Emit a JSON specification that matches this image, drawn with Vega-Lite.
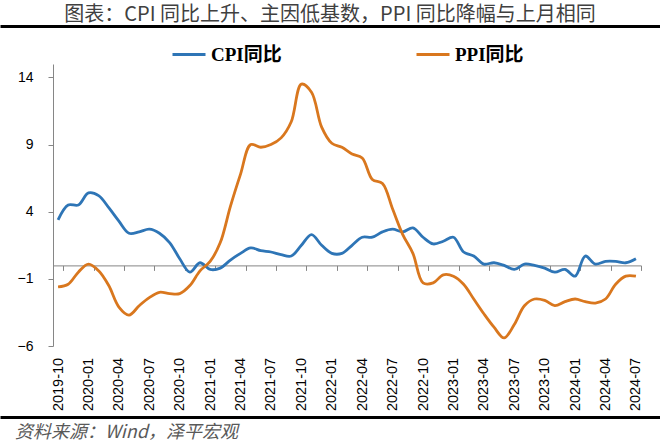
{
  "$schema": "https://vega.github.io/schema/vega-lite/v6.json",
  "padding": {"top": 5, "left": 0, "right": 0, "bottom": 0},
  "background": "white",
  "spacing": 6,
  "config": {"view": {"stroke": null}},
  "resolve": {"legend": {"color": "independent"}},
  "vconcat": [
    {
      "width": 607,
      "height": 1,
      "title": {
        "text": "图表：CPI 同比上升、主因低基数，PPI 同比降幅与上月相同",
        "font": "Noto Sans CJK SC",
        "fontSize": 20,
        "fontWeight": "normal",
        "color": "#404040",
        "anchor": "middle",
        "frame": "group",
        "dx": -26.5,
        "offset": 1
      },
      "data": {"values": [{"v": 0}]},
      "mark": {"type": "point", "size": 0, "strokeWidth": 0, "opacity": 0},
      "encoding": {
        "x": {
          "field": "v",
          "type": "quantitative",
          "scale": {"domain": [0, 1], "range": [-53, 607]},
          "axis": {"orient": "top", "title": null, "labels": false, "ticks": false, "grid": false, "domainColor": "#000000", "domainWidth": 3, "minExtent": 0}
        }
      }
    },
    {
      "width": 588,
      "height": 282,
      "data": {
        "values": [
          {"month": "2019-10", "series": "CPI同比", "value": 3.4},
          {"month": "2019-11", "series": "CPI同比", "value": 4.5},
          {"month": "2019-12", "series": "CPI同比", "value": 4.5},
          {"month": "2020-01", "series": "CPI同比", "value": 5.4},
          {"month": "2020-02", "series": "CPI同比", "value": 5.2},
          {"month": "2020-03", "series": "CPI同比", "value": 4.3},
          {"month": "2020-04", "series": "CPI同比", "value": 3.3},
          {"month": "2020-05", "series": "CPI同比", "value": 2.4},
          {"month": "2020-06", "series": "CPI同比", "value": 2.5},
          {"month": "2020-07", "series": "CPI同比", "value": 2.7},
          {"month": "2020-08", "series": "CPI同比", "value": 2.4},
          {"month": "2020-09", "series": "CPI同比", "value": 1.7},
          {"month": "2020-10", "series": "CPI同比", "value": 0.5},
          {"month": "2020-11", "series": "CPI同比", "value": -0.5},
          {"month": "2020-12", "series": "CPI同比", "value": 0.2},
          {"month": "2021-01", "series": "CPI同比", "value": -0.3},
          {"month": "2021-02", "series": "CPI同比", "value": -0.2},
          {"month": "2021-03", "series": "CPI同比", "value": 0.4},
          {"month": "2021-04", "series": "CPI同比", "value": 0.9},
          {"month": "2021-05", "series": "CPI同比", "value": 1.3},
          {"month": "2021-06", "series": "CPI同比", "value": 1.1},
          {"month": "2021-07", "series": "CPI同比", "value": 1.0},
          {"month": "2021-08", "series": "CPI同比", "value": 0.8},
          {"month": "2021-09", "series": "CPI同比", "value": 0.7},
          {"month": "2021-10", "series": "CPI同比", "value": 1.5},
          {"month": "2021-11", "series": "CPI同比", "value": 2.3},
          {"month": "2021-12", "series": "CPI同比", "value": 1.5},
          {"month": "2022-01", "series": "CPI同比", "value": 0.9},
          {"month": "2022-02", "series": "CPI同比", "value": 0.9},
          {"month": "2022-03", "series": "CPI同比", "value": 1.5},
          {"month": "2022-04", "series": "CPI同比", "value": 2.1},
          {"month": "2022-05", "series": "CPI同比", "value": 2.1},
          {"month": "2022-06", "series": "CPI同比", "value": 2.5},
          {"month": "2022-07", "series": "CPI同比", "value": 2.7},
          {"month": "2022-08", "series": "CPI同比", "value": 2.5},
          {"month": "2022-09", "series": "CPI同比", "value": 2.8},
          {"month": "2022-10", "series": "CPI同比", "value": 2.1},
          {"month": "2022-11", "series": "CPI同比", "value": 1.6},
          {"month": "2022-12", "series": "CPI同比", "value": 1.8},
          {"month": "2023-01", "series": "CPI同比", "value": 2.1},
          {"month": "2023-02", "series": "CPI同比", "value": 1.0},
          {"month": "2023-03", "series": "CPI同比", "value": 0.7},
          {"month": "2023-04", "series": "CPI同比", "value": 0.1},
          {"month": "2023-05", "series": "CPI同比", "value": 0.2},
          {"month": "2023-06", "series": "CPI同比", "value": 0.0},
          {"month": "2023-07", "series": "CPI同比", "value": -0.3},
          {"month": "2023-08", "series": "CPI同比", "value": 0.1},
          {"month": "2023-09", "series": "CPI同比", "value": 0.0},
          {"month": "2023-10", "series": "CPI同比", "value": -0.2},
          {"month": "2023-11", "series": "CPI同比", "value": -0.5},
          {"month": "2023-12", "series": "CPI同比", "value": -0.3},
          {"month": "2024-01", "series": "CPI同比", "value": -0.8},
          {"month": "2024-02", "series": "CPI同比", "value": 0.7},
          {"month": "2024-03", "series": "CPI同比", "value": 0.1},
          {"month": "2024-04", "series": "CPI同比", "value": 0.3},
          {"month": "2024-05", "series": "CPI同比", "value": 0.3},
          {"month": "2024-06", "series": "CPI同比", "value": 0.2},
          {"month": "2024-07", "series": "CPI同比", "value": 0.5},
          {"month": "2019-10", "series": "PPI同比", "value": -1.6},
          {"month": "2019-11", "series": "PPI同比", "value": -1.4},
          {"month": "2019-12", "series": "PPI同比", "value": -0.5},
          {"month": "2020-01", "series": "PPI同比", "value": 0.1},
          {"month": "2020-02", "series": "PPI同比", "value": -0.4},
          {"month": "2020-03", "series": "PPI同比", "value": -1.5},
          {"month": "2020-04", "series": "PPI同比", "value": -3.1},
          {"month": "2020-05", "series": "PPI同比", "value": -3.7},
          {"month": "2020-06", "series": "PPI同比", "value": -3.0},
          {"month": "2020-07", "series": "PPI同比", "value": -2.4},
          {"month": "2020-08", "series": "PPI同比", "value": -2.0},
          {"month": "2020-09", "series": "PPI同比", "value": -2.1},
          {"month": "2020-10", "series": "PPI同比", "value": -2.1},
          {"month": "2020-11", "series": "PPI同比", "value": -1.5},
          {"month": "2020-12", "series": "PPI同比", "value": -0.4},
          {"month": "2021-01", "series": "PPI同比", "value": 0.3},
          {"month": "2021-02", "series": "PPI同比", "value": 1.7},
          {"month": "2021-03", "series": "PPI同比", "value": 4.4},
          {"month": "2021-04", "series": "PPI同比", "value": 6.8},
          {"month": "2021-05", "series": "PPI同比", "value": 9.0},
          {"month": "2021-06", "series": "PPI同比", "value": 8.8},
          {"month": "2021-07", "series": "PPI同比", "value": 9.0},
          {"month": "2021-08", "series": "PPI同比", "value": 9.5},
          {"month": "2021-09", "series": "PPI同比", "value": 10.7},
          {"month": "2021-10", "series": "PPI同比", "value": 13.5},
          {"month": "2021-11", "series": "PPI同比", "value": 12.9},
          {"month": "2021-12", "series": "PPI同比", "value": 10.3},
          {"month": "2022-01", "series": "PPI同比", "value": 9.1},
          {"month": "2022-02", "series": "PPI同比", "value": 8.8},
          {"month": "2022-03", "series": "PPI同比", "value": 8.3},
          {"month": "2022-04", "series": "PPI同比", "value": 8.0},
          {"month": "2022-05", "series": "PPI同比", "value": 6.4},
          {"month": "2022-06", "series": "PPI同比", "value": 6.1},
          {"month": "2022-07", "series": "PPI同比", "value": 4.2},
          {"month": "2022-08", "series": "PPI同比", "value": 2.3},
          {"month": "2022-09", "series": "PPI同比", "value": 0.9},
          {"month": "2022-10", "series": "PPI同比", "value": -1.3},
          {"month": "2022-11", "series": "PPI同比", "value": -1.3},
          {"month": "2022-12", "series": "PPI同比", "value": -0.7},
          {"month": "2023-01", "series": "PPI同比", "value": -0.8},
          {"month": "2023-02", "series": "PPI同比", "value": -1.4},
          {"month": "2023-03", "series": "PPI同比", "value": -2.5},
          {"month": "2023-04", "series": "PPI同比", "value": -3.6},
          {"month": "2023-05", "series": "PPI同比", "value": -4.6},
          {"month": "2023-06", "series": "PPI同比", "value": -5.4},
          {"month": "2023-07", "series": "PPI同比", "value": -4.4},
          {"month": "2023-08", "series": "PPI同比", "value": -3.0},
          {"month": "2023-09", "series": "PPI同比", "value": -2.5},
          {"month": "2023-10", "series": "PPI同比", "value": -2.6},
          {"month": "2023-11", "series": "PPI同比", "value": -3.0},
          {"month": "2023-12", "series": "PPI同比", "value": -2.7},
          {"month": "2024-01", "series": "PPI同比", "value": -2.5},
          {"month": "2024-02", "series": "PPI同比", "value": -2.7},
          {"month": "2024-03", "series": "PPI同比", "value": -2.8},
          {"month": "2024-04", "series": "PPI同比", "value": -2.5},
          {"month": "2024-05", "series": "PPI同比", "value": -1.4},
          {"month": "2024-06", "series": "PPI同比", "value": -0.8},
          {"month": "2024-07", "series": "PPI同比", "value": -0.8}
        ]
      },
      "mark": {"type": "line", "interpolate": "catmull-rom", "strokeWidth": 2.8},
      "encoding": {
        "x": {
          "field": "month",
          "type": "ordinal",
          "scale": {"type": "band", "paddingInner": 0, "paddingOuter": 0},
          "axis": {
            "title": null,
            "values": ["2019-10", "2020-01", "2020-04", "2020-07", "2020-10", "2021-01", "2021-04", "2021-07", "2021-10", "2022-01", "2022-04", "2022-07", "2022-10", "2023-01", "2023-04", "2023-07", "2023-10", "2024-01", "2024-04", "2024-07"],
            "tickBand": "extent",
            "offset": -80.6,
            "domainColor": "#868686",
            "tickColor": "#868686",
            "tickSize": 5,
            "labelAngle": -90,
            "labelAlign": "right",
            "labelBaseline": "middle",
            "labelPadding": 87,
            "labelFont": "Liberation Sans",
            "labelFontSize": 14.5,
            "labelColor": "#000000"
          }
        },
        "y": {
          "field": "value",
          "type": "quantitative",
          "scale": {"domain": [-6, 15], "nice": false, "zero": false},
          "axis": {
            "title": null,
            "values": [-6, -1, 4, 9, 14],
            "grid": false,
            "domainColor": "#868686",
            "tickColor": "#868686",
            "tickSize": 5,
            "labelPadding": 15,
            "labelFont": "Liberation Sans",
            "labelFontSize": 14,
            "labelColor": "#000000"
          }
        },
        "color": {
          "field": "series",
          "type": "nominal",
          "scale": {"domain": ["CPI同比", "PPI同比"], "range": ["#2E75B6", "#D9771E"]},
          "legend": {
            "title": null,
            "orient": "none",
            "direction": "horizontal",
            "legendX": 115,
            "legendY": -30.5,
            "padding": 3,
            "symbolType": "stroke",
            "symbolSize": 1089,
            "symbolStrokeWidth": 3,
            "labelFont": "Liberation Serif, Noto Sans CJK SC",
            "labelFontWeight": "bold",
            "labelFontSize": 19,
            "labelColor": "#000000",
            "labelOffset": 4,
            "columnPadding": 128
          }
        }
      }
    },
    {
      "width": 607,
      "height": 1,
      "title": {
        "text": "资料来源：Wind，泽平宏观",
        "orient": "bottom",
        "anchor": "start",
        "frame": "group",
        "dx": -38,
        "offset": 6,
        "font": "Noto Sans CJK SC",
        "fontSize": 18,
        "fontStyle": "italic",
        "fontWeight": "normal",
        "color": "#595959"
      },
      "data": {"values": [{"v": 0}]},
      "mark": {"type": "point", "size": 0, "strokeWidth": 0, "opacity": 0},
      "encoding": {
        "x": {
          "field": "v",
          "type": "quantitative",
          "scale": {"domain": [0, 1], "range": [-53, 607]},
          "axis": {"orient": "top", "title": null, "labels": false, "ticks": false, "grid": false, "domainColor": "#000000", "domainWidth": 3, "minExtent": 0}
        }
      }
    }
  ]
}
